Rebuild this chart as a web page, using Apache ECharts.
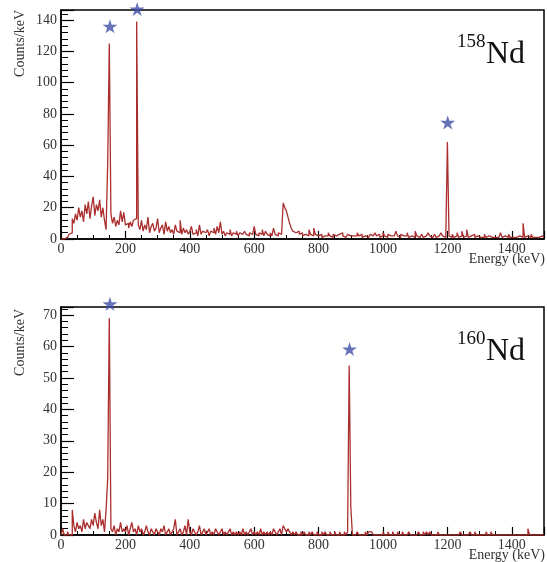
<!DOCTYPE html>
<html>
<head>
<meta charset="utf-8">
<script src="https://cdn.jsdelivr.net/npm/echarts@6/dist/echarts.min.js"></script>
<style>html,body{margin:0;padding:0;background:#fff}#c{width:547px;height:562px}</style>
</head>
<body>
<div id="c"></div>
<script>
// 5 keV bins, 0..1500 keV
const binWidth = 5;
const xTicks = [0, 200, 400, 600, 800, 1000, 1200, 1400];
const nd158 = [
0,0,1,1,2,3,4,13,10,16,
12,20,14,18,11,22,16,24,13,21,
27,15,22,18,25,14,20,12,6,48,
125,16,10,14,8,12,9,18,11,17,
9,10,7,11,8,12,13,139,9,6,
12,5,9,6,14,4,8,10,5,7,
13,4,7,9,3,11,5,8,4,6,
3,9,5,4,12,3,7,4,6,3,
5,8,3,4,6,2,9,3,5,4,
3,6,2,5,4,7,3,8,4,11,
3,5,2,4,3,6,2,4,3,5,
2,4,3,2,5,3,2,4,3,2,
8,3,2,4,3,6,2,5,3,2,
4,2,7,3,2,4,3,2,23,20,
18,14,10,7,5,4,3,5,3,4,
2,3,4,2,6,3,2,7,3,2,
2,3,1,2,3,2,4,2,1,3,
2,1,3,2,4,2,1,2,3,2,
3,2,1,2,4,2,3,1,2,3,
1,2,3,2,1,4,2,3,1,2,
4,2,1,3,2,1,2,3,5,2,
1,3,2,1,2,4,1,2,3,1,
5,2,1,2,3,1,2,1,4,2,
1,2,3,1,2,1,4,2,1,2,
62,2,1,3,1,2,4,1,2,5,
1,2,6,1,2,1,3,1,2,1,
1,2,1,3,1,2,1,1,2,1,
2,1,1,4,1,2,1,1,3,1,
1,2,1,1,2,1,1,10,1,2,
1,1,3,1,1,2,1,1,2,1
];
const nd160 = [
0,2,0,0,1,0,0,8,3,1,
4,2,3,1,5,2,4,3,2,5,
3,7,4,2,8,3,5,1,8,18,
69,2,1,3,0,2,1,4,1,2,
1,3,0,2,4,1,2,0,3,1,
2,0,1,3,1,0,2,1,0,2,
1,0,2,1,3,0,1,2,0,1,
2,5,0,1,2,0,1,3,0,5,
1,0,2,1,0,1,3,0,1,2,
0,1,2,0,1,0,2,1,0,1,
2,0,1,0,1,2,0,1,0,1,
0,1,0,2,0,1,0,1,2,0,
1,0,1,0,2,0,1,0,1,0,
1,0,2,1,0,1,2,0,3,2,
1,2,1,0,1,0,1,0,0,1,
0,1,0,0,1,0,1,0,0,1,
0,0,1,0,1,0,0,1,0,0,
1,0,0,1,0,0,1,0,1,54,
9,0,0,0,1,0,0,0,0,1,
0,1,1,1,0,0,0,0,0,0,
1,0,0,1,0,0,1,0,0,1,
0,0,1,0,0,0,1,0,0,0,
0,0,1,0,0,1,0,1,0,1,
0,0,0,0,1,0,0,0,0,0,
0,0,0,0,0,0,0,0,1,0,
0,0,0,0,1,0,0,1,0,0,
0,0,0,0,1,0,0,1,0,0,
0,0,0,0,0,0,0,0,0,0,
0,0,0,0,0,0,0,0,0,0,
2,0,0,0,0,0,0,0,0,0
];
const stars158 = [[152, 136], [236.5, 147], [1201, 74.5]];
const stars160 = [[152, 73.6], [896, 59.2]];

function hist(v) {
  const d = v.map((y, i) => [i * binWidth, y]);
  d.push([v.length * binWidth, v[v.length - 1]]);
  return d;
}
const F = 'Liberation Serif';
const starPath = 'path://M50,0 L61,35 L98,35 L68,57 L79,91 L50,70 L21,91 L32,57 L2,35 L39,35 Z';

function xAx(gi) {
  return {
    type: 'value', gridIndex: gi, min: 0, max: 1500, interval: 200,
    axisLine: {lineStyle: {color: '#000', width: 1.5}},
    axisTick: {inside: true, length: 8, lineStyle: {color: '#000', width: 1.2}},
    minorTick: {show: true, splitNumber: 4, length: 4, lineStyle: {color: '#000', width: 1}},
    splitLine: {show: false},
    axisLabel: {fontFamily: F, fontSize: 14, color: '#333', margin: 3, showMaxLabel: false,
      formatter: v => xTicks.includes(v) ? String(v) : ''}
  };
}
function yAx(gi, max, interval) {
  return {
    type: 'value', gridIndex: gi, min: 0, max: max, interval: interval,
    axisLine: {lineStyle: {color: '#000', width: 1.5}},
    axisTick: {inside: true, length: 13, lineStyle: {color: '#000', width: 1.2}},
    minorTick: {show: true, splitNumber: 5, length: 7, lineStyle: {color: '#000', width: 1}},
    splitLine: {show: false},
    axisLabel: {fontFamily: F, fontSize: 14, color: '#333', margin: 4, showMaxLabel: false}
  };
}
const red = '#ab2e2e';
const starColor = '#3f4fa8';
const chart = echarts.init(document.getElementById('c'), null, {renderer: 'canvas'});
chart.setOption({
  animation: false,
  grid: [
    {left: 61, top: 10, right: 3, height: 229, show: true, borderColor: '#000', borderWidth: 1.5},
    {left: 61, top: 307, right: 3, height: 228, show: true, borderColor: '#000', borderWidth: 1.5}
  ],
  xAxis: [xAx(0), xAx(1)],
  yAxis: [yAx(0, 146.4, 20), yAx(1, 72.6, 10)],
  series: [
    {type: 'line', xAxisIndex: 0, yAxisIndex: 0, step: 'end', symbol: 'none', data: hist(nd158),
      lineStyle: {color: red, width: 1.3}},
    {type: 'line', xAxisIndex: 1, yAxisIndex: 1, step: 'end', symbol: 'none', data: hist(nd160),
      lineStyle: {color: red, width: 1.3}},
    {type: 'scatter', xAxisIndex: 0, yAxisIndex: 0, clip: false, symbol: starPath, symbolSize: [15, 14],
      itemStyle: {color: starColor}, data: stars158, z: 5},
    {type: 'scatter', xAxisIndex: 1, yAxisIndex: 1, clip: false, symbol: starPath, symbolSize: [15, 14],
      itemStyle: {color: starColor}, data: stars160, z: 5}
  ],
  graphic: [
    {type: 'text', x: 20, y: 10, rotation: Math.PI / 2,
      style: {text: 'Counts/keV', font: '14px "Liberation Serif"', fill: '#333', align: 'right', verticalAlign: 'middle'}},
    {type: 'text', x: 20, y: 309, rotation: Math.PI / 2,
      style: {text: 'Counts/keV', font: '14px "Liberation Serif"', fill: '#333', align: 'right', verticalAlign: 'middle'}},
    {type: 'text', x: 545, y: 259,
      style: {text: 'Energy (keV)', font: '14px "Liberation Serif"', fill: '#333', align: 'right', verticalAlign: 'middle'}},
    {type: 'text', x: 545, y: 555,
      style: {text: 'Energy (keV)', font: '14px "Liberation Serif"', fill: '#333', align: 'right', verticalAlign: 'middle'}},
    {type: 'text', x: 457, y: 42,
      style: {text: '158', font: '19px "Liberation Serif"', fill: '#111', align: 'left', verticalAlign: 'middle'}},
    {type: 'text', x: 486, y: 55,
      style: {text: 'Nd', font: '32px "Liberation Serif"', fill: '#111', align: 'left', verticalAlign: 'middle'}},
    {type: 'text', x: 457, y: 339,
      style: {text: '160', font: '19px "Liberation Serif"', fill: '#111', align: 'left', verticalAlign: 'middle'}},
    {type: 'text', x: 486, y: 352,
      style: {text: 'Nd', font: '32px "Liberation Serif"', fill: '#111', align: 'left', verticalAlign: 'middle'}}
  ]
});
</script>
</body>
</html>
